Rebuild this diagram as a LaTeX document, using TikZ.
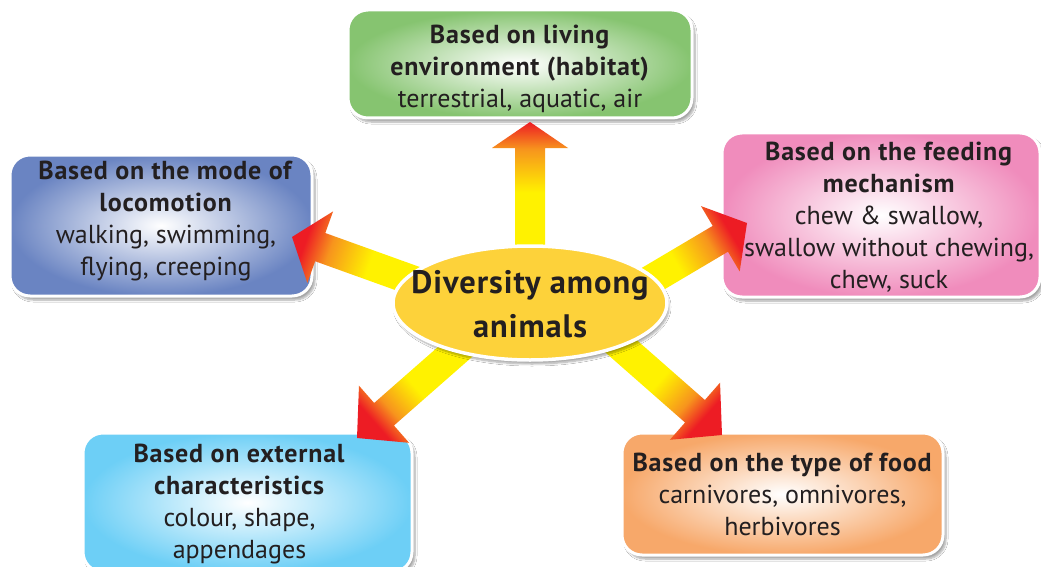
\documentclass[tikz,border=0pt]{standalone}
\usepackage{fontspec}
\setmainfont{PT Sans}[BoldFeatures={LetterSpace=3}]
\usetikzlibrary{calc,shapes.geometric,shadows.blur}
\definecolor{ayel}{HTML}{FFF200}
\definecolor{aora}{HTML}{F7941D}
\definecolor{ared}{HTML}{ED1C24}
\definecolor{txt}{HTML}{231F20}
\definecolor{cgreen}{HTML}{86C470}
\definecolor{cblue}{HTML}{6A84C2}
\definecolor{cpink}{HTML}{F08CBC}
\definecolor{ccyan}{HTML}{6DCFF6}
\definecolor{corange}{HTML}{F7A86A}
\definecolor{cell}{HTML}{FDD23A}
\pgfdeclareverticalshading{arrowgrad}{100bp}{color(0bp)=(ayel); color(54bp)=(ayel); color(67bp)=(aora); color(75bp)=(ared); color(100bp)=(ared)}
\newcommand\fatarrow[4]{%
  \path ($(#2)!#4!(#1)$) coordinate (fa-b);
  \shade[shading=arrowgrad, shading angle=#3]
    ($(#1)!15pt!90:(#2)$) -- ($(fa-b)!15pt!90:(#2)$) -- ($(fa-b)!38pt!90:(#2)$) -- (#2)
    -- ($(fa-b)!38pt!-90:(#2)$) -- ($(fa-b)!15pt!-90:(#2)$) -- ($(#1)!15pt!-90:(#2)$) -- cycle;
}
\begin{document}
\begin{tikzpicture}[x=1pt,y=-1pt,
  box/.style={rectangle, rounded corners=20pt, draw=white, line width=3pt, inner sep=0pt,
    blur shadow={shadow xshift=3pt, shadow yshift=-4pt, shadow blur steps=8, shadow opacity=35}},
  boxtext/.style={align=center, text=txt, font=\fontsize{26}{32}\selectfont, inner sep=0pt},
  hub/.style={ellipse, fill=cell, draw=white, line width=3.5pt, inner sep=0pt,
    blur shadow={shadow xshift=2pt, shadow yshift=-4pt, shadow blur steps=8, shadow opacity=35}},
  hubtext/.style={align=center, text=txt, font=\fontsize{32.5}{44}\selectfont\bfseries, inner sep=0pt}]
\useasboundingbox (0,0) rectangle (1041,567);
\fill[white] (0,0) rectangle (1041,567);

\node[box, inner color=white, outer color=cgreen, minimum width=344pt, minimum height=108pt,
  label={[boxtext, yshift=-5pt]center:{\textbf{Based on living}\\\textbf{environment (habitat)}\\terrestrial, aquatic, air}}] (hab) at (520,64) {};
\node[box, inner color=white, outer color=cblue, minimum width=302pt, minimum height=141pt,
  label={[boxtext, xshift=5pt, yshift=4pt]center:{\textbf{Based on the mode of}\\\textbf{locomotion}\\walking, swimming,\\flying, creeping}}] (loc) at (161,225.5) {};
\node[box, inner color=white, outer color=cpink, minimum width=318pt, minimum height=164pt,
  label={[boxtext, xshift=8pt, yshift=-2pt]center:{\textbf{Based on the feeding}\\\textbf{mechanism}\\chew \& swallow,\\swallow without chewing,\\chew, suck}}] (feed) at (881,215) {};
\node[box, inner color=white, outer color=ccyan, minimum width=329pt, minimum height=139pt,
  label={[boxtext, xshift=-8pt, yshift=-2pt]center:{\textbf{Based on external}\\\textbf{characteristics}\\colour, shape,\\appendages}}] (ext) at (247.5,502.5) {};
\node[box, inner color=white, outer color=corange, minimum width=321pt, minimum height=122pt,
  label={[boxtext]center:{\textbf{Based on the type of food}\\carnivores, omnivores,\\herbivores}}] (food) at (782.5,494) {};

\coordinate (s1) at (530,290); \coordinate (t1) at (530,122);
\coordinate (s2) at (470,301); \coordinate (t2) at (292,237);
\coordinate (s3) at (590,316); \coordinate (t3) at (747,223);
\coordinate (s4) at (480,330); \coordinate (t4) at (357,438);
\coordinate (s5) at (590,319); \coordinate (t5) at (722,435);
\fatarrow{s1}{t1}{0}{26pt}
\fatarrow{s2}{t2}{70.3}{30pt}
\fatarrow{s3}{t3}{-59.4}{31pt}
\fatarrow{s4}{t4}{131.3}{36pt}
\fatarrow{s5}{t5}{-131.3}{36pt}

\node[hub, minimum width=274pt, minimum height=114pt,
  label={[hubtext, yshift=-1pt]center:{Diversity among\\animals}}] (c) at (530,303) {};
\end{tikzpicture}
\end{document}
